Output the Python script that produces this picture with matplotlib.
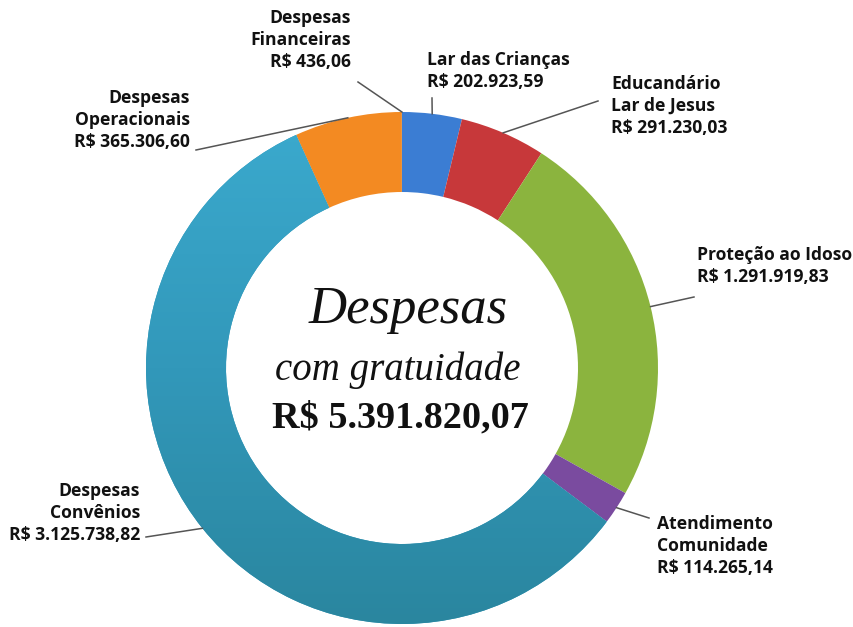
import numpy as np
import matplotlib
matplotlib.use("Agg")
import matplotlib.pyplot as plt
from matplotlib.colors import LinearSegmentedColormap

# -----------------------------------------------------------
# Dados (valores do gráfico)
# -----------------------------------------------------------
categorias = ["Lar das Crianças", "Educandário\nLar de Jesus", "Proteção ao Idoso",
              "Atendimento\nComunidade", "Despesas\nConvênios", "Despesas\nOperacionais",
              "Despesas\nFinanceiras"]
valores = [202923.59, 291230.03, 1291919.83, 114265.14, 3125738.82, 365306.60, 436.06]
cores = ["#3B7DD3", "#C7383A", "#8BB43E", "#7A4B9F", "#3298BA", "#F38A22", "#8A8A8A"]
total = 5391820.07

# posição do texto de cada rótulo (pixels da imagem), alinhamento
pos_rotulos = [(427, 71, "left"), (611, 106, "left"), (697, 266, "left"),
               (657, 546, "left"), (140, 513, "right"), (190, 120, "right"),
               (351, 40, "right")]
# ponta da linha guia junto ao texto
pontas = [(432, 98), (598, 101), (694, 297), (649, 518), (146, 537), (196, 150), (358, 82)]

W, H = 854, 627
CX, CY, R, LARG = 402, 368, 256, 80


def brl(v):
    s = f"{v:,.2f}"
    return "R$ " + s.replace(",", "X").replace(".", ",").replace("X", ".")


fig = plt.figure(figsize=(W / 100, H / 100), dpi=100)
ax = fig.add_axes([0, 0, 1, 1])

wedges, _ = ax.pie(valores, colors=cores, startangle=90, counterclock=False,
                   radius=R, center=(CX, H - CY),
                   wedgeprops=dict(width=LARG, edgecolor="none"))
ax.set_xlim(0, W)
ax.set_ylim(0, H)
ax.set_aspect("equal")
ax.axis("off")

# degradê na fatia maior (convênios), claro em cima e escuro embaixo
grad = LinearSegmentedColormap.from_list("teal", ["#2A869F", "#3298BA", "#3BAACE"])
g = np.linspace(0, 1, 256).reshape(-1, 1)
img = ax.imshow(g, cmap=grad, extent=(CX - R, CX + R, H - CY - R, H - CY + R),
                origin="lower", aspect="auto", zorder=wedges[4].get_zorder())
img.set_clip_path(wedges[4])

# rótulos e linhas guia
for w, nome, v, (tx, ty, ha), (lx, ly) in zip(wedges, categorias, valores, pos_rotulos, pontas):
    ang = np.deg2rad((w.theta1 + w.theta2) / 2)
    px = CX + R * np.cos(ang)
    py = (H - CY) + R * np.sin(ang)
    ax.plot([lx, px], [H - ly, py], color="#555555", lw=1.1, zorder=3)
    ax.text(tx, H - ty, nome + "\n" + brl(v), ha=ha, va="center", multialignment=ha,
            fontsize=12.6, fontweight="bold", family="Open Sans", color="#111111",
            linespacing=1.28)

# texto central
ax.text(408, H - 310, "Despesas", ha="center", va="center", family="Liberation Serif",
        style="italic", fontsize=38, color="#111111")
ax.text(398, H - 370, "com gratuidade", ha="center", va="center", family="Liberation Serif",
        style="italic", fontsize=28, color="#111111")
ax.text(400, H - 418, brl(total), ha="center", va="center", family="Liberation Serif",
        fontweight="bold", fontsize=27.5, color="#111111")

fig.savefig("out.png", dpi=100)
